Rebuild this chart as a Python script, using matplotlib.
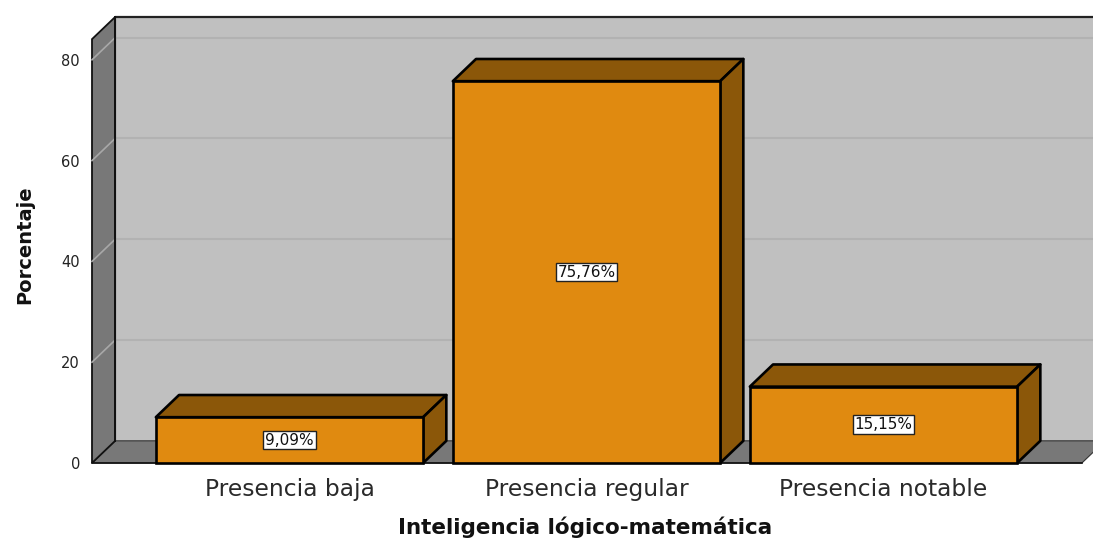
import matplotlib
matplotlib.use("Agg")
import matplotlib.pyplot as plt
from matplotlib.patches import Polygon, Rectangle

# ---- data ----
categories = ["Presencia baja", "Presencia regular", "Presencia notable"]
percentages = [9.09, 75.76, 15.15]
value_labels = ["9,09%", "75,76%", "15,15%"]
y_ticks = [0, 20, 40, 60, 80]
x_title = "Inteligencia lógico-matemática"
y_title = "Porcentaje"

# ---- style ----
FRONT = "#E08A10"
DARK = "#8B5709"
WALL = "#C0C0C0"
SIDE = "#787878"
GRID_BACK = "#B2B2B2"
GRID_SIDE = "#A8A8A8"
DX = 0.078       # depth offset in category units
DY = 4.4         # depth offset in percent units
BAR_W = 0.9
X0 = -0.665      # front-left edge of the floor / side wall
XR = 2.668       # front-right edge of the floor
TOP = 88.5       # back wall top

W, H = 1093, 541
fig = plt.figure(figsize=(W / 100, H / 100), dpi=100)

xlim = (-0.6852, 2.705)
ylim = (-1.0, 89.5)
px_per_x = 297.0
px_per_y = 5.04
ax_left_px = 92 - (X0 - xlim[0]) * px_per_x
ax_width_px = (xlim[1] - xlim[0]) * px_per_x
ax_bottom_px = 463 + (0 - ylim[0]) * px_per_y
ax_height_px = (ylim[1] - ylim[0]) * px_per_y
ax = fig.add_axes([ax_left_px / W, (H - ax_bottom_px) / H, ax_width_px / W, ax_height_px / H])
ax.set_xlim(*xlim)
ax.set_ylim(*ylim)
for s in ax.spines.values():
    s.set_visible(False)
ax.patch.set_visible(False)

# back wall
ax.add_patch(Rectangle((X0 + DX, DY), XR + 2 * DX - X0, TOP - DY, facecolor=WALL,
                       edgecolor="none", zorder=1))
ax.plot([X0 + DX, xlim[1] + 0.1], [TOP, TOP], color="#222222", lw=1.6, zorder=2, solid_capstyle="butt")
for v in y_ticks[1:]:
    ax.plot([X0 + DX, xlim[1] + 0.1], [v + DY, v + DY], color=GRID_BACK, lw=1.5, zorder=1.5)

# floor
ax.add_patch(Polygon([(X0, 0), (X0 + DX, DY), (XR + DX, DY), (XR, 0)], closed=True,
                     facecolor=SIDE, edgecolor="#333333", lw=0.8, zorder=2))
# side wall
ax.add_patch(Polygon([(X0, 0), (X0, TOP - DY), (X0 + DX, TOP), (X0 + DX, DY)], closed=True,
                     facecolor=SIDE, edgecolor="#111111", lw=1.3, zorder=2))
for v in y_ticks[1:]:
    ax.plot([X0, X0 + DX], [v, v + DY], color=GRID_SIDE, lw=1.2, zorder=2.1)
ax.plot([X0 + DX, X0 + DX], [DY, TOP], color="#111111", lw=1.4, zorder=2.2)
ax.plot([X0, XR], [0, 0], color="#111111", lw=1.2, zorder=2.2)

# bars
xs = list(range(len(categories)))
ax.bar(xs, percentages, width=BAR_W, color=FRONT, edgecolor="black", linewidth=1.9, zorder=4)
for x, v, lab in zip(xs, percentages, value_labels):
    l, r = x - BAR_W / 2, x + BAR_W / 2
    ax.add_patch(Polygon([(l, v), (l + DX, v + DY), (r + DX, v + DY), (r, v)], closed=True,
                         facecolor=DARK, edgecolor="black", lw=1.9, joinstyle="round", zorder=3))
    ax.add_patch(Polygon([(r, 0), (r, v), (r + DX, v + DY), (r + DX, DY)], closed=True,
                         facecolor=DARK, edgecolor="black", lw=1.9, joinstyle="round", zorder=3))
    ax.text(x, v / 2, lab, ha="center", va="center", fontsize=11, color="#111111",
            family="DejaVu Sans", zorder=6,
            bbox=dict(boxstyle="square,pad=0.12", facecolor="white", edgecolor="#222222", lw=1.0))

# axes ticks
ax.set_yticks(y_ticks)
ax.set_yticklabels([str(t) for t in y_ticks], fontsize=10.5, color="#222222", family="DejaVu Sans")
ax.tick_params(axis="y", length=0, pad=4.3)
ax.set_xticks(xs)
ax.set_xticklabels(categories, fontsize=16.8, color="#2a2a2a", family="DejaVu Sans")
ax.tick_params(axis="x", length=0, pad=7.5)

fig.text(585.5 / W, (H - 527) / H, x_title, ha="center", va="center", fontsize=15.5,
         fontweight="bold", color="#111111", family="DejaVu Sans")
fig.text(25 / W, (H - 245) / H, y_title, ha="center", va="center", rotation=90, fontsize=14,
         fontweight="bold", color="#111111", family="DejaVu Sans")

fig.savefig("out.png", dpi=100)
